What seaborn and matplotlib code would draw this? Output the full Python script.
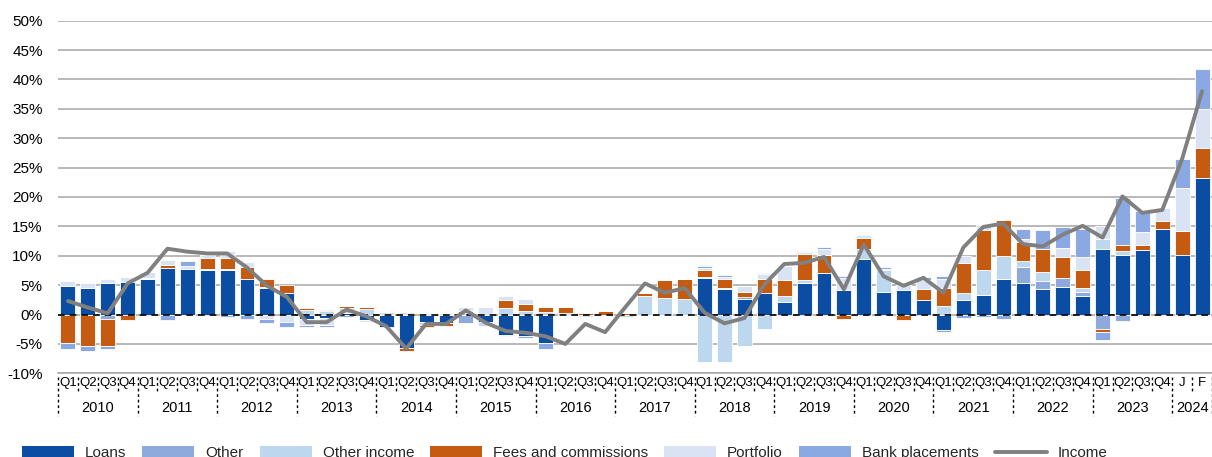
import matplotlib
matplotlib.use("Agg")
import matplotlib.pyplot as plt
import matplotlib.transforms as mtransforms
from matplotlib.patches import Patch
from matplotlib.lines import Line2D
import numpy as np
import seaborn as sns

# ─────────────────────────────────────────────
# Data (contributions to income growth, % y/y)
# ─────────────────────────────────────────────
years = [str(y) for y in range(2010, 2024)] + ["2024"]
quarters = ["Q1", "Q2", "Q3", "Q4"]
period_labels = quarters * 14 + ["J", "F"]

loans = [4.9, 4.5, 5.3, 5.5, 6.0, 7.9, 7.8, 7.6, 7.6, 6.1, 4.5, 3.6,
         -0.75, -0.55, 0.3, -0.85, -2.2, -5.7, -1.3, -1.4, 0.0, -1.2, -3.4, -3.7,
         -4.9, 0.0, 0.0, 0.0, 0.0, 0.0, 0.0, 0.0, 6.25, 4.3, 2.7, 3.7,
         2.1, 5.4, 7.0, 4.25, 9.5, 3.9, 4.15, 2.5, -2.6, 2.55, 3.4, 6.0,
         5.3, 4.4, 4.65, 3.1, 11.2, 10.2, 10.9, 14.6, 10.2, 23.3]
other = [0, 0, -0.7, 0, 0, 0, 0, 0, 0, 0, 0, 0,
         0, 0, -0.5, 0, 0, 0, 0, 0, -1.5, 0, 0, 0,
         0, 0, 0, 0, 0, 0, 0, 0, 0.15, 0.3, 0.3, 0,
         0, 0, 0, 0, 0, 0, 0, 0, -0.3, 0, 0, 0,
         2.8, 1.3, 1.5, 0.7, -2.5, -1.1, 0, -0.3, 0, 0]
other_income = [0, 0, 0, 0, 0.2, 0, 0, 0.1, 0.2, 0, 0.2, 0,
                0.7, 0.55, 0.8, 0.95, 0, 0, -0.5, 0, 0.3, -0.8, 1.1, 0.55,
                0.4, 0.3, 0, 0, -0.4, 3.1, 2.85, 2.7, -8.1, -8.1, -5.4, -2.4,
                1.0, 0.55, 0, 0, 1.7, 3.6, 0, 0, 1.5, 1.1, 4.1, 3.9,
                1.0, 1.6, 0, 0.7, 1.7, 0.55, -0.3, 0, 0, -0.2]
fees = [-4.8, -5.4, -4.7, -1.0, 0.1, 0.45, -0.15, 2.0, 1.9, 2.0, 1.4, 1.4,
        0.45, 0.3, 0.4, 0.3, 0, -0.45, -0.3, -0.55, 0.3, 0, 1.3, 1.3,
        0.9, 1.0, 0.2, 0.6, 0.3, 0.55, 2.95, 3.3, 1.25, 1.5, 0.75, 2.4,
        2.8, 4.3, 3.1, -0.75, 1.9, 0.1, -1.0, 1.9, 3.1, 5.1, 6.9, 6.2,
        3.3, 3.8, 3.6, 3.0, -0.45, 1.0, 1.0, 1.3, 4.0, 5.1]
portfolio = [0.8, 0.9, 0.8, 0.9, 0.9, 0.9, 0.5, 0.5, 1.1, 0.9, -0.7, -1.2,
             -1.1, -1.3, 0, -0.4, 0.4, 0.5, 0.3, 0.3, 0.7, 1.3, 0.8, 0.8,
             0, 0, -0.5, -0.2, 0, 0, 0, 0, 0.3, 0.3, 1.1, 0.85,
             2.4, 0.4, 1.1, 2.0, 0.4, 0.2, 0.8, 1.5, 1.4, 1.25, 0.85, 0,
             0.5, 0, 1.5, 2.3, 2.1, 0, 2.1, 2.3, 7.4, 6.5]
bank_placements = [-1.0, -0.85, -0.5, 0, 0, -1.0, 0.85, 0, -0.5, -0.7, -0.7, -0.9,
                   -0.3, -0.3, 0, 0, 0, 0, 0, 0, 0, 0, -0.3, -0.3,
                   -0.9, 0, 0, 0, 0, 0, 0, 0, 0.3, 0.3, 0, 0.2,
                   0.2, 0.2, 0.35, 0.3, 0, 0.35, 0, 0.45, 0.6, -0.6, -0.4, -0.7,
                   1.7, 3.3, 3.6, 4.7, -1.3, 8.1, 3.6, 0, 4.9, 6.9]
income = [2.3, 1.2, 0.2, 5.3, 7.1, 11.2, 10.7, 10.4, 10.4, 8.0, 4.9, 3.0,
          -1.3, -1.3, 0.85, -0.3, -2.0, -5.8, -1.6, -1.6, 0.7, -1.4, -2.8, -3.1,
          -3.7, -5.0, -1.6, -3.0, 1.2, 5.3, 3.7, 4.5, 0.3, -1.5, -0.6, 5.1,
          8.6, 8.8, 9.8, 4.3, 11.9, 6.5, 4.9, 6.25, 3.7, 11.4, 14.9, 15.5,
          12.0, 11.6, 13.6, 15.1, 13.1, 20.1, 17.3, 17.8, 26.5, 38.0]

series_names = ["Loans", "Other", "Other income", "Fees and commissions",
                "Portfolio", "Bank placements"]
series_values = [loans, other, other_income, fees, portfolio, bank_placements]
series_colors = ["#0A4DA2", "#8EA9DB", "#BDD7EE", "#C55A11", "#DAE3F3", "#8AA8E2"]
line_color = "#808080"

# ─────────────────────────────────────────────
# Style
# ─────────────────────────────────────────────
sns.set_theme(style="white")
plt.rcParams["font.family"] = ["Liberation Sans", "DejaVu Sans"]

W, H = 1212, 457
fig = plt.figure(figsize=(W / 100, H / 100), dpi=100)
ax_top, ax_bot, ax_left = 20.7, 373.3, 58
ax = fig.add_axes([ax_left / W, (H - ax_bot) / H, 1 - ax_left / W, (ax_bot - ax_top) / H])

n = len(period_labels)
x = np.arange(n)

# stacked bars, positives and negatives stacked separately
pos_base = np.zeros(n)
neg_base = np.zeros(n)
for vals, col in zip(series_values, series_colors):
    v = np.array(vals, dtype=float)
    base = np.where(v >= 0, pos_base, neg_base)
    ax.bar(x, v, bottom=base, width=0.75, color=col, edgecolor="white",
           linewidth=0.6, zorder=2)
    pos_base += np.clip(v, 0, None)
    neg_base += np.clip(v, None, 0)

# zero line
ax.axhline(0, color="black", lw=1.2, ls=(0, (4, 3)), zorder=3)

sns.lineplot(x=x, y=income, color=line_color, lw=2.8, ax=ax, zorder=4,
             legend=False, sort=False)

# axes
ax.set_xlim(-0.5, (W - ax_left) / 20.01 - 0.5)
ax.set_ylim(-10, 50)
ax.set_yticks(range(-10, 51, 5))
ax.set_yticklabels([f"{t}%" for t in range(-10, 51, 5)], fontsize=11, color="black")
ax.yaxis.grid(True, color="#A6A6A6", lw=1.1)
ax.set_axisbelow(True)
for s in ["top", "right", "left"]:
    ax.spines[s].set_visible(False)
ax.spines["bottom"].set_color("#A6A6A6")
ax.spines["bottom"].set_linewidth(1.1)
ax.tick_params(axis="y", length=0, pad=11)

ax.set_xticks(x)
ax.set_xticklabels(period_labels, fontsize=9.5, color="black")
ax.set_xticks(np.arange(-0.5, n, 1.0), minor=True)
ax.tick_params(axis="x", which="major", length=0, pad=3)
ax.tick_params(axis="x", which="minor", length=4, width=1, color="black", direction="out")

# separators below the axis and year labels
trans = mtransforms.blended_transform_factory(ax.transData, ax.transAxes)
ah = ax_bot - ax_top
for b in np.arange(-0.5, n, 1.0):
    is_year = (b + 0.5) % 4 == 0 or b == n - 0.5
    y_end = -(416 - ax_bot) / ah if is_year else -(392 - ax_bot) / ah
    ax.plot([b, b], [-(377 - ax_bot) / ah, y_end], transform=trans, color="black",
            lw=1, ls=(0, (2, 2)), clip_on=False)

for i, yr in enumerate(years):
    cx = 56.5 if yr == "2024" else i * 4 + 1.5
    ax.text(cx, -(408 - ax_bot) / ah, yr, transform=trans, ha="center",
            va="center", fontsize=10.5, color="black")

# legend (sits at the bottom edge, as in the source)
handles = [Patch(facecolor=c, edgecolor="none") for c in series_colors]
handles.append(Line2D([0], [0], color=line_color, lw=2.8))
labels = series_names + ["Income"]
fig.legend(handles, labels, loc="upper left", bbox_to_anchor=(22 / W, 1 - 446 / H),
           ncol=7, frameon=False, fontsize=11, borderpad=0, borderaxespad=0,
           handlelength=3.4, handletextpad=0.72, columnspacing=1.05)

fig.savefig("out.png", dpi=100)
